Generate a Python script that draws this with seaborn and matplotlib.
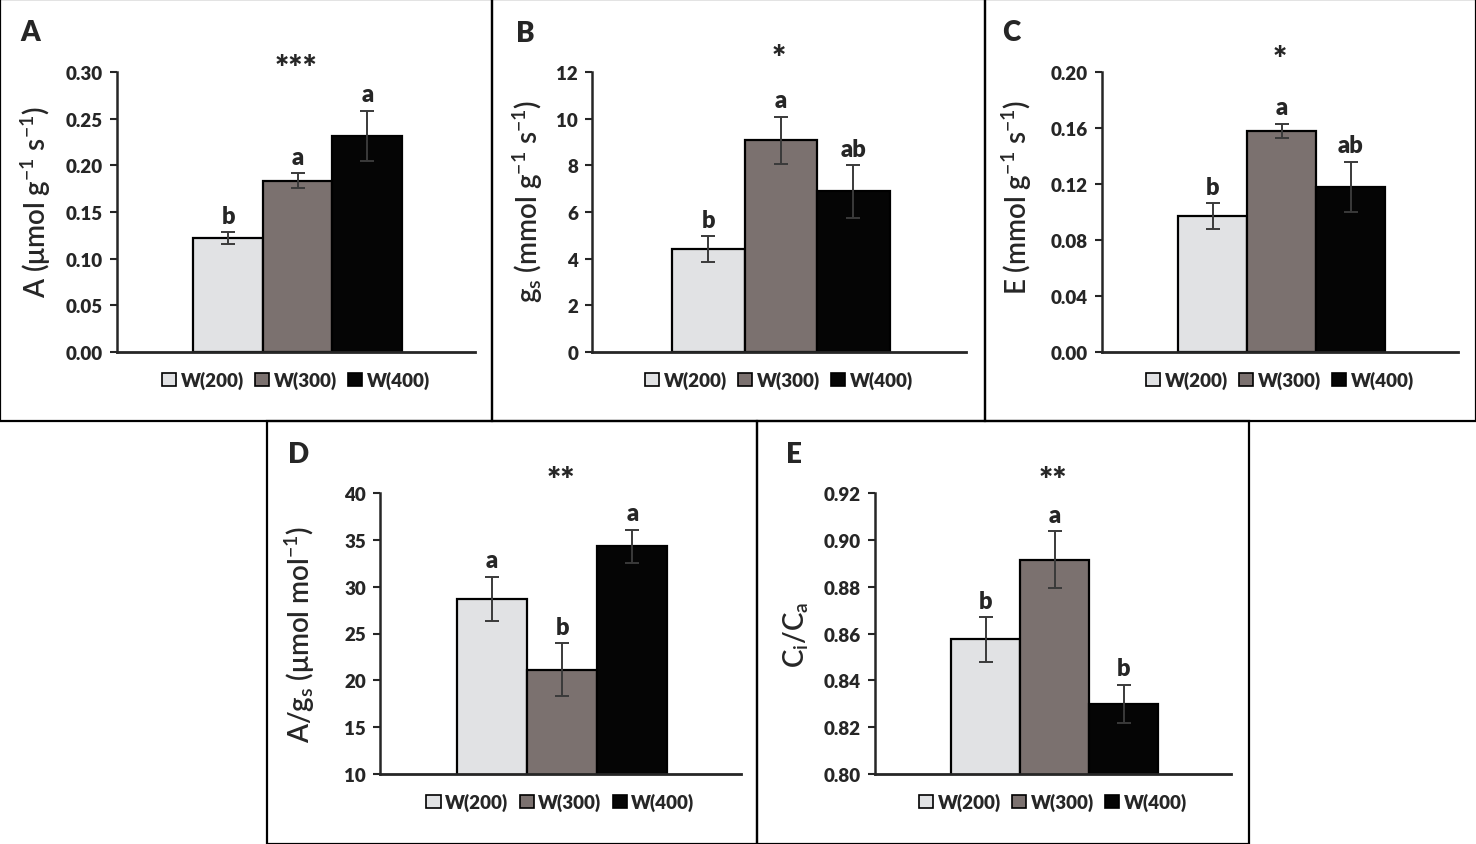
import matplotlib
matplotlib.use("Agg")
import matplotlib.pyplot as plt
import seaborn as sns
import numpy as np
from matplotlib.patches import Patch, Rectangle
from matplotlib.ticker import FormatStrFormatter

# groups and colours
groups = ["W(200)", "W(300)", "W(400)"]
colors = ["#e1e2e4", "#7b716f", "#050505"]

# A: net photosynthesis
a_mean = [0.122, 0.1835, 0.2315]
a_err = [0.0063, 0.0079, 0.027]
a_letters = ["b", "a", "a"]
a_ticks = [0.00, 0.05, 0.10, 0.15, 0.20, 0.25, 0.30]

# B: stomatal conductance
gs_mean = [4.40, 9.07, 6.88]
gs_err = [0.56, 1.0, 1.12]
gs_letters = ["b", "a", "ab"]
gs_ticks = [0, 2, 4, 6, 8, 10, 12]

# C: transpiration
e_mean = [0.097, 0.158, 0.118]
e_err = [0.0092, 0.005, 0.018]
e_letters = ["b", "a", "ab"]
e_ticks = [0.00, 0.04, 0.08, 0.12, 0.16, 0.20]

# D: A/gs
wue_mean = [28.7, 21.15, 34.3]
wue_err = [2.35, 2.8, 1.78]
wue_letters = ["a", "b", "a"]
wue_ticks = [10, 15, 20, 25, 30, 35, 40]

# E: Ci/Ca
cica_mean = [0.8575, 0.8915, 0.830]
cica_err = [0.0095, 0.0122, 0.0081]
cica_letters = ["b", "a", "b"]
cica_ticks = [0.80, 0.82, 0.84, 0.86, 0.88, 0.90, 0.92]

sns.set_style("ticks")
plt.rcParams['font.family'] = ['Lato', 'DejaVu Sans']
plt.rcParams['mathtext.fontset'] = 'custom'
plt.rcParams['mathtext.rm'] = 'Lato:semibold'
plt.rcParams['mathtext.it'] = 'Lato:italic'
plt.rcParams['mathtext.bf'] = 'Lato:bold'

W, H = 1476, 845
fig = plt.figure(figsize=(W / 100, H / 100), dpi=100)
fig.patch.set_facecolor("white")


def px_axes(left, right, top, bottom):
    return fig.add_axes([left / W, 1 - bottom / H, (right - left) / W, (bottom - top) / H])


def panel(box, axbox, tag, tagpos, means, errs, letters, ticks, fmt, ylabel, lab_x, lab_y, stars, star_y):
    # panel frame
    x0, y0, x1, y1 = box
    fig.add_artist(Rectangle((x0 / W, 1 - y1 / H), (x1 - x0) / W, (y1 - y0) / H,
                             transform=fig.transFigure, fill=False, edgecolor="black", linewidth=1.6))
    fig.text(tagpos[0] / W, 1 - tagpos[1] / H, tag, ha="center", va="center",
             fontsize=20, fontweight="heavy")

    ax = px_axes(*axbox)
    sns.barplot(x=groups, y=means, hue=groups, palette=colors, width=1, saturation=1,
                edgecolor="black", linewidth=1.6, legend=False, ax=ax)
    ax.errorbar(range(len(groups)), means, yerr=errs, fmt="none", ecolor="#3a3a3a",
                elinewidth=1.4, capsize=5, capthick=1.4, zorder=5)
    for i, (m, e, l) in enumerate(zip(means, errs, letters)):
        ax.annotate(l, (i, m + e), xytext=(0, 4), textcoords="offset points",
                    ha="center", va="bottom", fontsize=17, fontweight="heavy")
    ax.text(0.5, star_y, stars, transform=ax.transAxes, ha="center", va="center",
            fontsize=24, fontweight="heavy")

    ax.set_xlim(-1.6, 3.55)
    ax.set_ylim(ticks[0], ticks[-1])
    ax.set_yticks(ticks)
    ax.yaxis.set_major_formatter(FormatStrFormatter(fmt))
    ax.set_xticks([])
    ax.set_xlabel("")
    for s in ["top", "right"]:
        ax.spines[s].set_visible(False)
    ax.spines["left"].set_linewidth(1.8)
    ax.spines["bottom"].set_linewidth(2.0)
    ax.tick_params(axis="y", direction="out", length=5, width=1.5, labelsize=13.5, pad=5)
    for t in ax.get_yticklabels():
        t.set_fontweight("heavy")
    ax.set_ylabel(ylabel, fontsize=20, fontweight="semibold")
    ax.yaxis.set_label_coords(lab_x, lab_y)

    handles = [Patch(facecolor=c, edgecolor="black", linewidth=1.2, label=g)
               for g, c in zip(groups, colors)]
    ax.legend(handles=handles, loc="center", bbox_to_anchor=(0.5, -0.1), ncol=3, frameon=False,
              handlelength=0.75, handleheight=0.75, handletextpad=0.25, columnspacing=0.6,
              prop={"size": 13.5, "weight": "heavy"})
    return ax


panel((0, 0, 492, 422), (117, 475, 73, 353), "A", (30, 33), a_mean, a_err, a_letters, a_ticks, "%.2f",
      r"A ($\mathregular{\mu}$mol g$^{\mathregular{-1}}$ s$^{\mathregular{-1}}$)", -0.18, 0.54, "***", 1.01)
panel((492, 0, 985, 422), (592, 966, 73, 353), "B", (525, 34), gs_mean, gs_err, gs_letters, gs_ticks, "%d",
      r"g$_{\mathregular{s}}$ (mmol g$^{\mathregular{-1}}$ s$^{\mathregular{-1}}$)", -0.125, 0.54, "*", 1.048)
panel((985, 0, 1476, 422), (1102, 1458, 73, 353), "C", (1011, 33), e_mean, e_err, e_letters, e_ticks, "%.2f",
      r"E (mmol g$^{\mathregular{-1}}$ s$^{\mathregular{-1}}$)", -0.19, 0.555, "*", 1.042)
panel((267, 422, 757, 845), (380, 741, 494, 775), "D", (299, 455), wue_mean, wue_err, wue_letters, wue_ticks, "%d",
      r"A/g$_{\mathregular{s}}$ ($\mathregular{\mu}$mol mol$^{\mathregular{-1}}$)", -0.175, 0.5, "**", 1.042)
panel((757, 422, 1249, 845), (875, 1231, 494, 775), "E", (794, 455), cica_mean, cica_err, cica_letters, cica_ticks,
      "%.2f", r"C$_{\mathregular{i}}$/C$_{\mathregular{a}}$", -0.18, 0.5, "**", 1.042)

fig.savefig("out.png", dpi=100, facecolor="white")
